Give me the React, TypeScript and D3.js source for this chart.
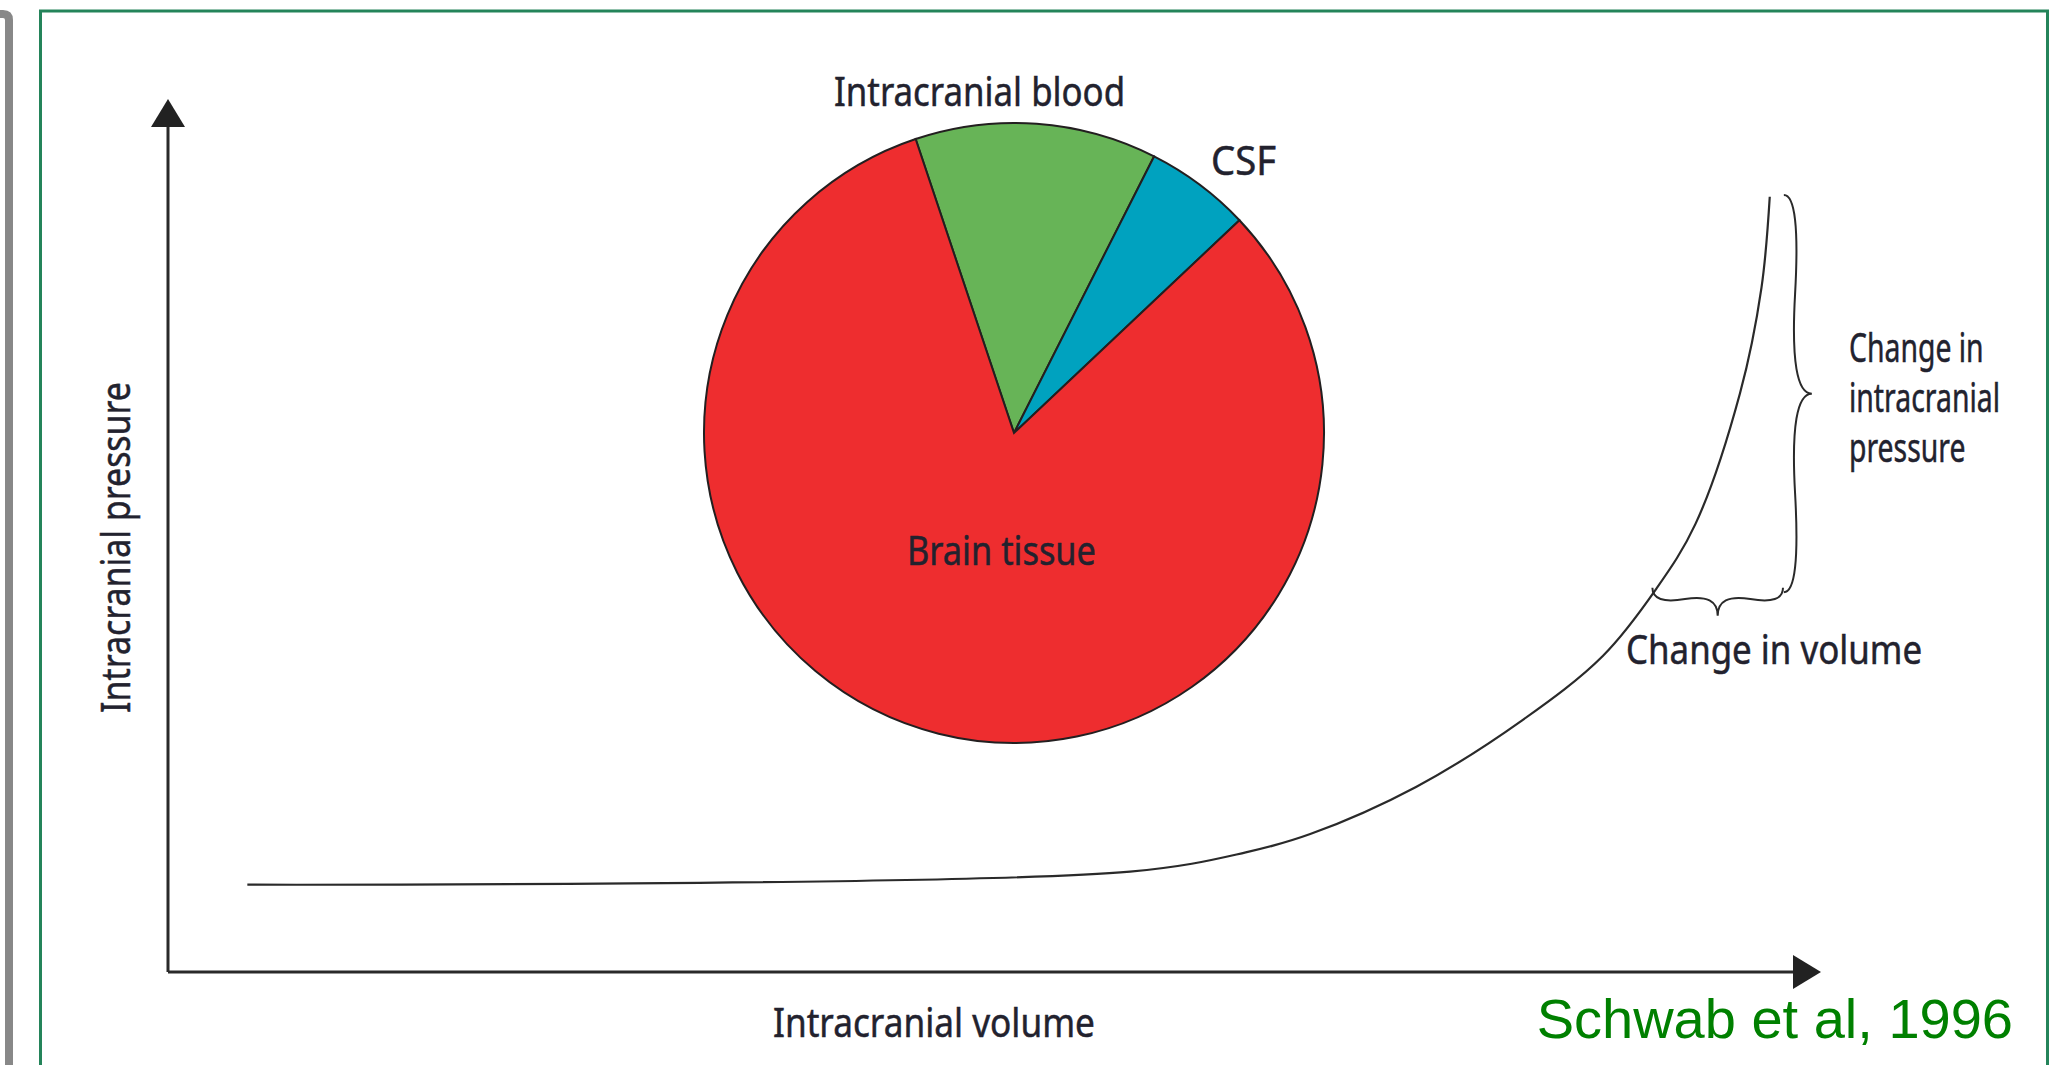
import React, { useLayoutEffect, useRef, useState } from "react";
import * as d3 from "d3";

const W = 2056;
const H = 1065;

// inset pie: make-up of the intracranial volume (%)
const compartments = ["Intracranial blood", "CSF", "Brain tissue"];
const shares = [12.6, 5.5, 81.9];
const sliceColors = ["#67b457", "#00a2bf", "#ee2d2f"];

// pressure-volume curve, both axes in arbitrary units 0-100
const volume = [4.8, 58.2, 65.2, 69.1, 75.5, 81.9, 86.8, 90.0, 92.4, 95.1, 96.4, 96.9];
const pressure = [10.0, 11.5, 13.7, 15.8, 21.2, 28.8, 36.2, 43.8, 51.3, 66.3, 78.4, 88.8];

// the two braces, in the same units
const pressureBrace = { volume: 98.6, from: 43.5, to: 89 };
const volumeBrace = { pressure: 42.4, from: 89.8, to: 97.7 };

const xTitle = "Intracranial volume";
const yTitle = "Intracranial pressure";
const pressureNote = ["Change in", "intracranial", "pressure"];
const volumeNote = "Change in volume";
const source = "Schwab et al, 1996";

const ink = "#22222e";
const font = "'Noto Sans', 'Open Sans', sans-serif";

// curly brace between two points, tip on the left of the travel direction
function brace(x1: number, y1: number, x2: number, y2: number, w: number, q: number) {
  const len = Math.hypot(x1 - x2, y1 - y2);
  const dx = (x1 - x2) / len;
  const dy = (y1 - y2) / len;
  const qx1 = x1 + q * w * dy, qy1 = y1 - q * w * dx;
  const qx2 = x1 - 0.25 * len * dx + (1 - q) * w * dy, qy2 = y1 - 0.25 * len * dy - (1 - q) * w * dx;
  const tx = x1 - 0.5 * len * dx + w * dy, ty = y1 - 0.5 * len * dy - w * dx;
  const qx3 = x2 + q * w * dy, qy3 = y2 - q * w * dx;
  const qx4 = x1 - 0.75 * len * dx + (1 - q) * w * dy, qy4 = y1 - 0.75 * len * dy - (1 - q) * w * dx;
  return `M${x1},${y1}Q${qx1},${qy1} ${qx2},${qy2}T${tx},${ty}M${x2},${y2}Q${qx3},${qy3} ${qx4},${qy4}T${tx},${ty}`;
}

// label squeezed horizontally to the condensed width of the original typeface;
// several lines share one <text> and one squeeze (width = widest line)
function Label({ x, y, width, rotate = 0, lines, lineHeight = 50 }: {
  x: number; y: number; width: number; rotate?: number; lines: string[]; lineHeight?: number;
}) {
  const ref = useRef<SVGTextElement>(null);
  const [k, setK] = useState(0.75);
  useLayoutEffect(() => {
    const n = ref.current;
    if (!n) return;
    const w = n.getBBox().width;
    if (w > 0) setK(width / w);
  }, [width, lines.join("|")]);
  return (
    <g transform={`translate(${x},${y}) rotate(${rotate}) scale(${k},1)`}>
      <text ref={ref} fontFamily={font} fontSize={40} fill={ink} stroke={ink} strokeWidth={0.5}>
        {lines.map((t, i) => (
          <tspan key={t} x={0} dy={i === 0 ? 0 : lineHeight}>{t}</tspan>
        ))}
      </text>
    </g>
  );
}

export default function App() {
  const x = d3.scaleLinear().domain([0, 100]).range([168, 1821]);
  const y = d3.scaleLinear().domain([0, 100]).range([972, 99]);

  const pts = volume.map((v, i) => [v, pressure[i]] as [number, number]);
  const line = d3.line<[number, number]>()
    .x(d => x(d[0]))
    .y(d => y(d[1]))
    .curve(d3.curveCatmullRom.alpha(0.5));

  const start = (-18.5 * Math.PI) / 180;
  const pie = d3.pie<number>().sort(null).startAngle(start).endAngle(start + 2 * Math.PI);
  const arcs = pie(shares);
  const r = 310;
  const arc = d3.arc<d3.PieArcDatum<number>>().innerRadius(0).outerRadius(r);

  const [x0, x1] = x.range();
  const [y0, y1] = y.range();
  const head = 28;
  const half = 17;

  const vb = brace(
    x(pressureBrace.volume) - 14, y(pressureBrace.from),
    x(pressureBrace.volume) - 14, y(pressureBrace.to), 28, 0.6
  );
  const hb = brace(
    x(volumeBrace.from), y(volumeBrace.pressure) - 14,
    x(volumeBrace.to), y(volumeBrace.pressure) - 14, 28, 0.6
  );

  return (
    <svg width={W} height={H} style={{ position: "absolute", left: 0, top: 0, background: "#fff" }}>
      {/* page furniture */}
      <path d="M-10,14H3Q9,14 9,20V1080" fill="none" stroke="#888" strokeWidth={8} />
      <rect x={40.5} y={11} width={2007} height={1100} fill="none" stroke="#24845a" strokeWidth={3} />

      {/* axes */}
      <g stroke="#2a2a2a" strokeWidth={3} fill="none">
        <line x1={x0} y1={y0} x2={x0} y2={y1 + head} />
        <line x1={x0} y1={y0} x2={x1 - head} y2={y0} />
      </g>
      <path d={`M${x0},${y1}L${x0 + half},${y1 + head}L${x0 - half},${y1 + head}Z`} fill="#222" />
      <path d={`M${x1},${y0}L${x1 - head},${y0 - half}L${x1 - head},${y0 + half}Z`} fill="#222" />

      {/* pressure-volume curve */}
      <path d={line(pts) ?? ""} fill="none" stroke="#2a2a2a" strokeWidth={2.2} />

      {/* braces */}
      <path d={vb} fill="none" stroke="#2a2a2a" strokeWidth={2} />
      <path d={hb} fill="none" stroke="#2a2a2a" strokeWidth={2} />

      {/* inset pie */}
      <g transform="translate(1014,433)">
        {arcs.map((a, i) => (
          <path key={compartments[i]} d={arc(a) ?? ""} fill={sliceColors[i]} stroke="#231f20" strokeWidth={2} />
        ))}
      </g>

      <Label x={834} y={106} width={291} lines={[compartments[0]]} />
      <Label x={1211} y={175} width={65} lines={[compartments[1]]} />
      <Label x={907} y={565} width={189} lines={[compartments[2]]} />

      <Label x={1849} y={362} width={151} lines={pressureNote} />
      <Label x={1626} y={664} width={296} lines={[volumeNote]} />

      <Label x={773} y={1037} width={322} lines={[xTitle]} />
      <Label x={130} y={713} width={331} rotate={-90} lines={[yTitle]} />

      <text x={2013} y={1038} textAnchor="end" fontFamily="'Liberation Sans', Arial, sans-serif" fontSize={56} fill="#008000">{source}</text>
    </svg>
  );
}
